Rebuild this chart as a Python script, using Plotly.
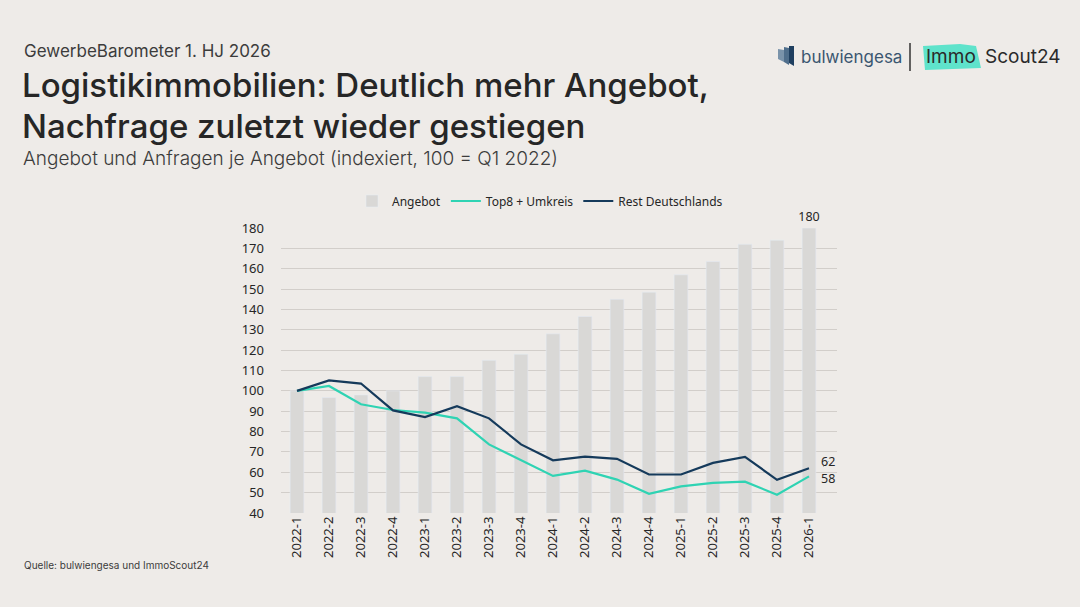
import plotly.graph_objects as go

quarters = ["2022-1", "2022-2", "2022-3", "2022-4", "2023-1", "2023-2", "2023-3", "2023-4",
            "2024-1", "2024-2", "2024-3", "2024-4", "2025-1", "2025-2", "2025-3", "2025-4", "2026-1"]
angebot = [100, 96.7, 98, 100, 107, 107, 115, 118, 128, 136.5, 145, 148.5, 157, 163.5, 172, 174, 180]
top8 = [100, 102.4, 93.4, 90.6, 89.3, 86.5, 73.7, 65.9, 58.2, 60.8, 56.4, 49.4, 53.1, 54.8, 55.4, 49.0, 58]
rest = [100, 105.1, 103.6, 90.4, 87.1, 92.5, 86.5, 73.7, 65.9, 67.7, 66.6, 58.9, 58.9, 64.6, 67.6, 56.3, 62]
y_ticks = list(range(40, 190, 10))

BG = "#EEEBE8"
GRAY = "#D9D8D6"
TEAL = "#2FD3B3"
NAVY = "#153A5B"
TXT = "#262626"
CHART_FONT = "Noto Sans"
TITLE_FONT = "Inter"

W, H = 1080, 607
L, R, T, B = 281, 837, 228, 513


def px(x):
    return (x - L) / (R - L)


def py(y):
    return (B - y) / (B - T)


def last_only(vals):
    return ["" for _ in vals[:-1]] + [f"{vals[-1]:.0f}"]


fig = go.Figure()
fig.add_trace(go.Bar(
    x=quarters, y=angebot, name="Angebot", marker_color=GRAY, width=0.43,
    text=last_only(angebot), textposition="outside", cliponaxis=False, constraintext="none",
    textfont=dict(size=12.5, color=TXT, family=CHART_FONT),
))
fig.add_trace(go.Scatter(
    x=quarters, y=top8, name="Top8 + Umkreis", mode="lines",
    line=dict(color=TEAL, width=2.2),
))
fig.add_trace(go.Scatter(
    x=quarters, y=rest, name="Rest Deutschlands", mode="lines",
    line=dict(color=NAVY, width=2.2),
))

fig.update_layout(
    width=W, height=H,
    paper_bgcolor=BG, plot_bgcolor=BG,
    margin=dict(l=L, r=W - R, t=T, b=H - B, autoexpand=False),
    font=dict(family=CHART_FONT, color=TXT, size=12),
    showlegend=True,
    legend=dict(orientation="h", xref="container", yref="container",
                x=0.5, y=1 - 201 / H, xanchor="center", yanchor="middle",
                font=dict(size=12, color=TXT, family=CHART_FONT),
                bgcolor="rgba(0,0,0,0)", itemwidth=30, tracegroupgap=0),
    xaxis=dict(type="category", tickangle=-90, showgrid=False, ticks="", automargin=False,
               tickfont=dict(size=13, color=TXT), showline=False, zeroline=False),
    yaxis=dict(range=[40, 180], tickvals=y_ticks, showgrid=True, gridcolor="#D2CECA",
               gridwidth=1, zeroline=False, ticks="", tickfont=dict(size=13, color=TXT),
               ticklabelstandoff=16, automargin=False),
)

ann = []
ann.append(dict(text="GewerbeBarometer 1. HJ 2026", x=px(22), y=py(51), xref="paper", yref="paper",
                xanchor="left", yanchor="middle", showarrow=False,
                font=dict(family=TITLE_FONT, size=17, color="#3C3C3C")))
ann.append(dict(text="Logistikimmobilien: Deutlich mehr Angebot,", x=px(20), y=py(85), xref="paper", yref="paper",
                xanchor="left", yanchor="middle", showarrow=False,
                font=dict(family=TITLE_FONT, size=33, color="#262626", weight=500)))
ann.append(dict(text="Nachfrage zuletzt wieder gestiegen", x=px(20), y=py(126), xref="paper", yref="paper",
                xanchor="left", yanchor="middle", showarrow=False,
                font=dict(family=TITLE_FONT, size=33, color="#262626", weight=500)))
ann.append(dict(text="Angebot und Anfragen je Angebot (indexiert, 100 = Q1 2022)", x=px(21), y=py(159),
                xref="paper", yref="paper", xanchor="left", yanchor="middle", showarrow=False,
                font=dict(family=TITLE_FONT, size=19, color="#3C3C3C", weight=300)))
ann.append(dict(text="Quelle: bulwiengesa und ImmoScout24", x=px(22), y=py(565), xref="paper", yref="paper",
                xanchor="left", yanchor="middle", showarrow=False,
                font=dict(family=TITLE_FONT, size=10, color="#3C3C3C")))
# end labels for the lines
ann.append(dict(text=f"{rest[-1]:.0f}", x=quarters[-1], y=rest[-1], xref="x", yref="y",
                xanchor="left", yanchor="middle", xshift=10, yshift=7, showarrow=False,
                font=dict(family=CHART_FONT, size=12.5, color=TXT)))
ann.append(dict(text=f"{top8[-1]:.0f}", x=quarters[-1], y=top8[-1], xref="x", yref="y",
                xanchor="left", yanchor="middle", xshift=10, yshift=-2, showarrow=False,
                font=dict(family=CHART_FONT, size=12.5, color=TXT)))
# logos
ann.append(dict(text="bulwiengesa", x=px(799), y=py(57), xref="paper", yref="paper",
                xanchor="left", yanchor="middle", showarrow=False,
                font=dict(family="Inter", size=17, color="#3A5670")))
ann.append(dict(text="Immo", x=px(951), y=py(57), xref="paper", yref="paper",
                xanchor="center", yanchor="middle", showarrow=False,
                font=dict(family="Inter", size=19, color="#2A2A2A")))
ann.append(dict(text="Scout24", x=px(983), y=py(57), xref="paper", yref="paper",
                xanchor="left", yanchor="middle", showarrow=False,
                font=dict(family="Inter", size=19, color="#2A2A2A")))
fig.update_layout(annotations=ann)

shapes = []
# separator
shapes.append(dict(type="line", xref="paper", yref="paper", x0=px(910), x1=px(910), y0=py(43), y1=py(71),
                   line=dict(color="#333333", width=1.5)))
# ImmoScout highlight
shapes.append(dict(type="path", xref="paper", yref="paper", layer="below",
                   path=f"M {px(923)} {py(46)} L {px(960)} {py(44)} L {px(976)} {py(46)} L {px(981)} {py(68)} L {px(925)} {py(70)} Z",
                   fillcolor="#5FE3CB", line=dict(width=0)))
# leader tick near the last label
shapes.append(dict(type="line", xref="paper", yref="paper", x0=px(823), x1=px(829), y0=py(467), y1=py(461),
                   line=dict(color="#BDBDBD", width=1)))
# bulwiengesa icon: slanted bars
icon = [(778, 49, 784, 52, 62), (784, 47, 789, 50, 65), (789, 46, 794, 48, 66)]
for i, (x0, yt, x1, yt2, yb) in enumerate(icon):
    shapes.append(dict(type="path", xref="paper", yref="paper",
                       path=f"M {px(x0)} {py(yt)} L {px(x1)} {py(yt2 - 2)} L {px(x1)} {py(yb)} L {px(x0)} {py(yb - 3)} Z",
                       fillcolor=["#7A93AA", "#4F6E8B", "#1F3F60"][i], line=dict(width=0)))
fig.update_layout(shapes=shapes)

fig.write_html("out.html")
